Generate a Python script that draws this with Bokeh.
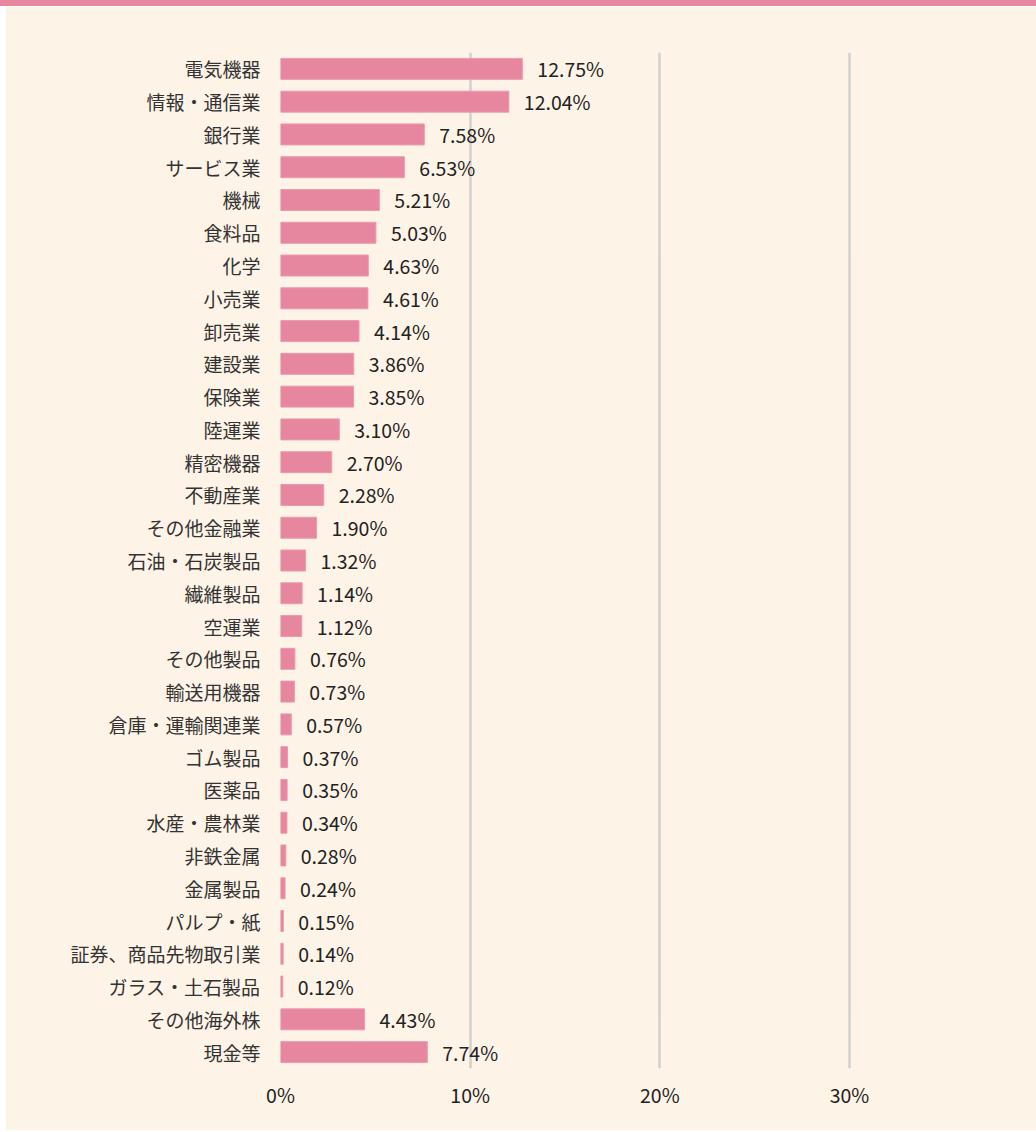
from bokeh.plotting import figure
from bokeh.models import ColumnDataSource, LabelSet, FixedTicker, Div, Range1d
from bokeh.core.properties import value
from bokeh.layouts import column
from bokeh.embed import file_html
from bokeh.resources import INLINE

categories = ["電気機器", "情報・通信業", "銀行業", "サービス業", "機械", "食料品", "化学", "小売業",
              "卸売業", "建設業", "保険業", "陸運業", "精密機器", "不動産業", "その他金融業",
              "石油・石炭製品", "繊維製品", "空運業", "その他製品", "輸送用機器", "倉庫・運輸関連業",
              "ゴム製品", "医薬品", "水産・農林業", "非鉄金属", "金属製品", "パルプ・紙",
              "証券、商品先物取引業", "ガラス・土石製品", "その他海外株", "現金等"]
values = [12.75, 12.04, 7.58, 6.53, 5.21, 5.03, 4.63, 4.61, 4.14, 3.86, 3.85, 3.10, 2.70, 2.28,
          1.90, 1.32, 1.14, 1.12, 0.76, 0.73, 0.57, 0.37, 0.35, 0.34, 0.28, 0.24, 0.15, 0.14,
          0.12, 4.43, 7.74]
x_ticks = [0, 10, 20, 30]
x_tick_labels = ["0%", "10%", "20%", "30%"]

FONT = "Noto Sans CJK JP"
BG = "#FEF3E7"
PINK = "#E6879F"

src = ColumnDataSource(dict(cat=categories, val=values,
                            lab=[f"{v:.2f}%" for v in values]))

p = figure(width=1031, height=1124, y_range=list(reversed(categories)),
           x_range=Range1d(0, 39.86), output_backend="svg", toolbar_location=None,
           min_border_left=275, min_border_right=0, min_border_top=46, min_border_bottom=62,
           background_fill_color=BG, border_fill_color=BG, outline_line_color=None,
           margin=(0, 0, 0, 5))

p.hbar(y="cat", right="val", left=0, height=0.64, source=src,
       fill_color=PINK, line_color="#EA9AAE", line_width=1)

labels = LabelSet(x="val", y="cat", text="lab", source=src, x_offset=15,
                  text_baseline="middle", text_align="left", text_font=value(FONT),
                  text_font_size="19.5px", text_color="#222222")
p.add_layout(labels)

p.xaxis.ticker = FixedTicker(ticks=x_ticks)
p.xaxis.major_label_overrides = {t: l for t, l in zip(x_ticks, x_tick_labels)}
p.xaxis.axis_line_color = None
p.xaxis.major_tick_line_color = None
p.xaxis.minor_tick_line_color = None
p.xaxis.major_label_text_font = FONT
p.xaxis.major_label_text_font_size = "19.5px"
p.xaxis.major_label_text_color = "#222222"
p.xaxis.major_label_standoff = 5

p.yaxis.axis_line_color = None
p.yaxis.major_tick_line_color = None
p.yaxis.minor_tick_line_color = None
p.yaxis.major_label_text_font = FONT
p.yaxis.major_label_text_font_size = "19px"
p.yaxis.major_label_text_color = "#333333"
p.yaxis.major_label_standoff = 14

p.xgrid.grid_line_color = "#D2D0CE"
p.xgrid.grid_line_width = 2.5
p.xgrid.ticker = FixedTicker(ticks=x_ticks)
p.ygrid.grid_line_color = None

top = Div(width=1036, height=6, styles={"background-color": PINK}, margin=(0, 0, 0, 0))
layout = column(top, p, spacing=0)

open("out.html", "w").write(file_html(layout, INLINE))
